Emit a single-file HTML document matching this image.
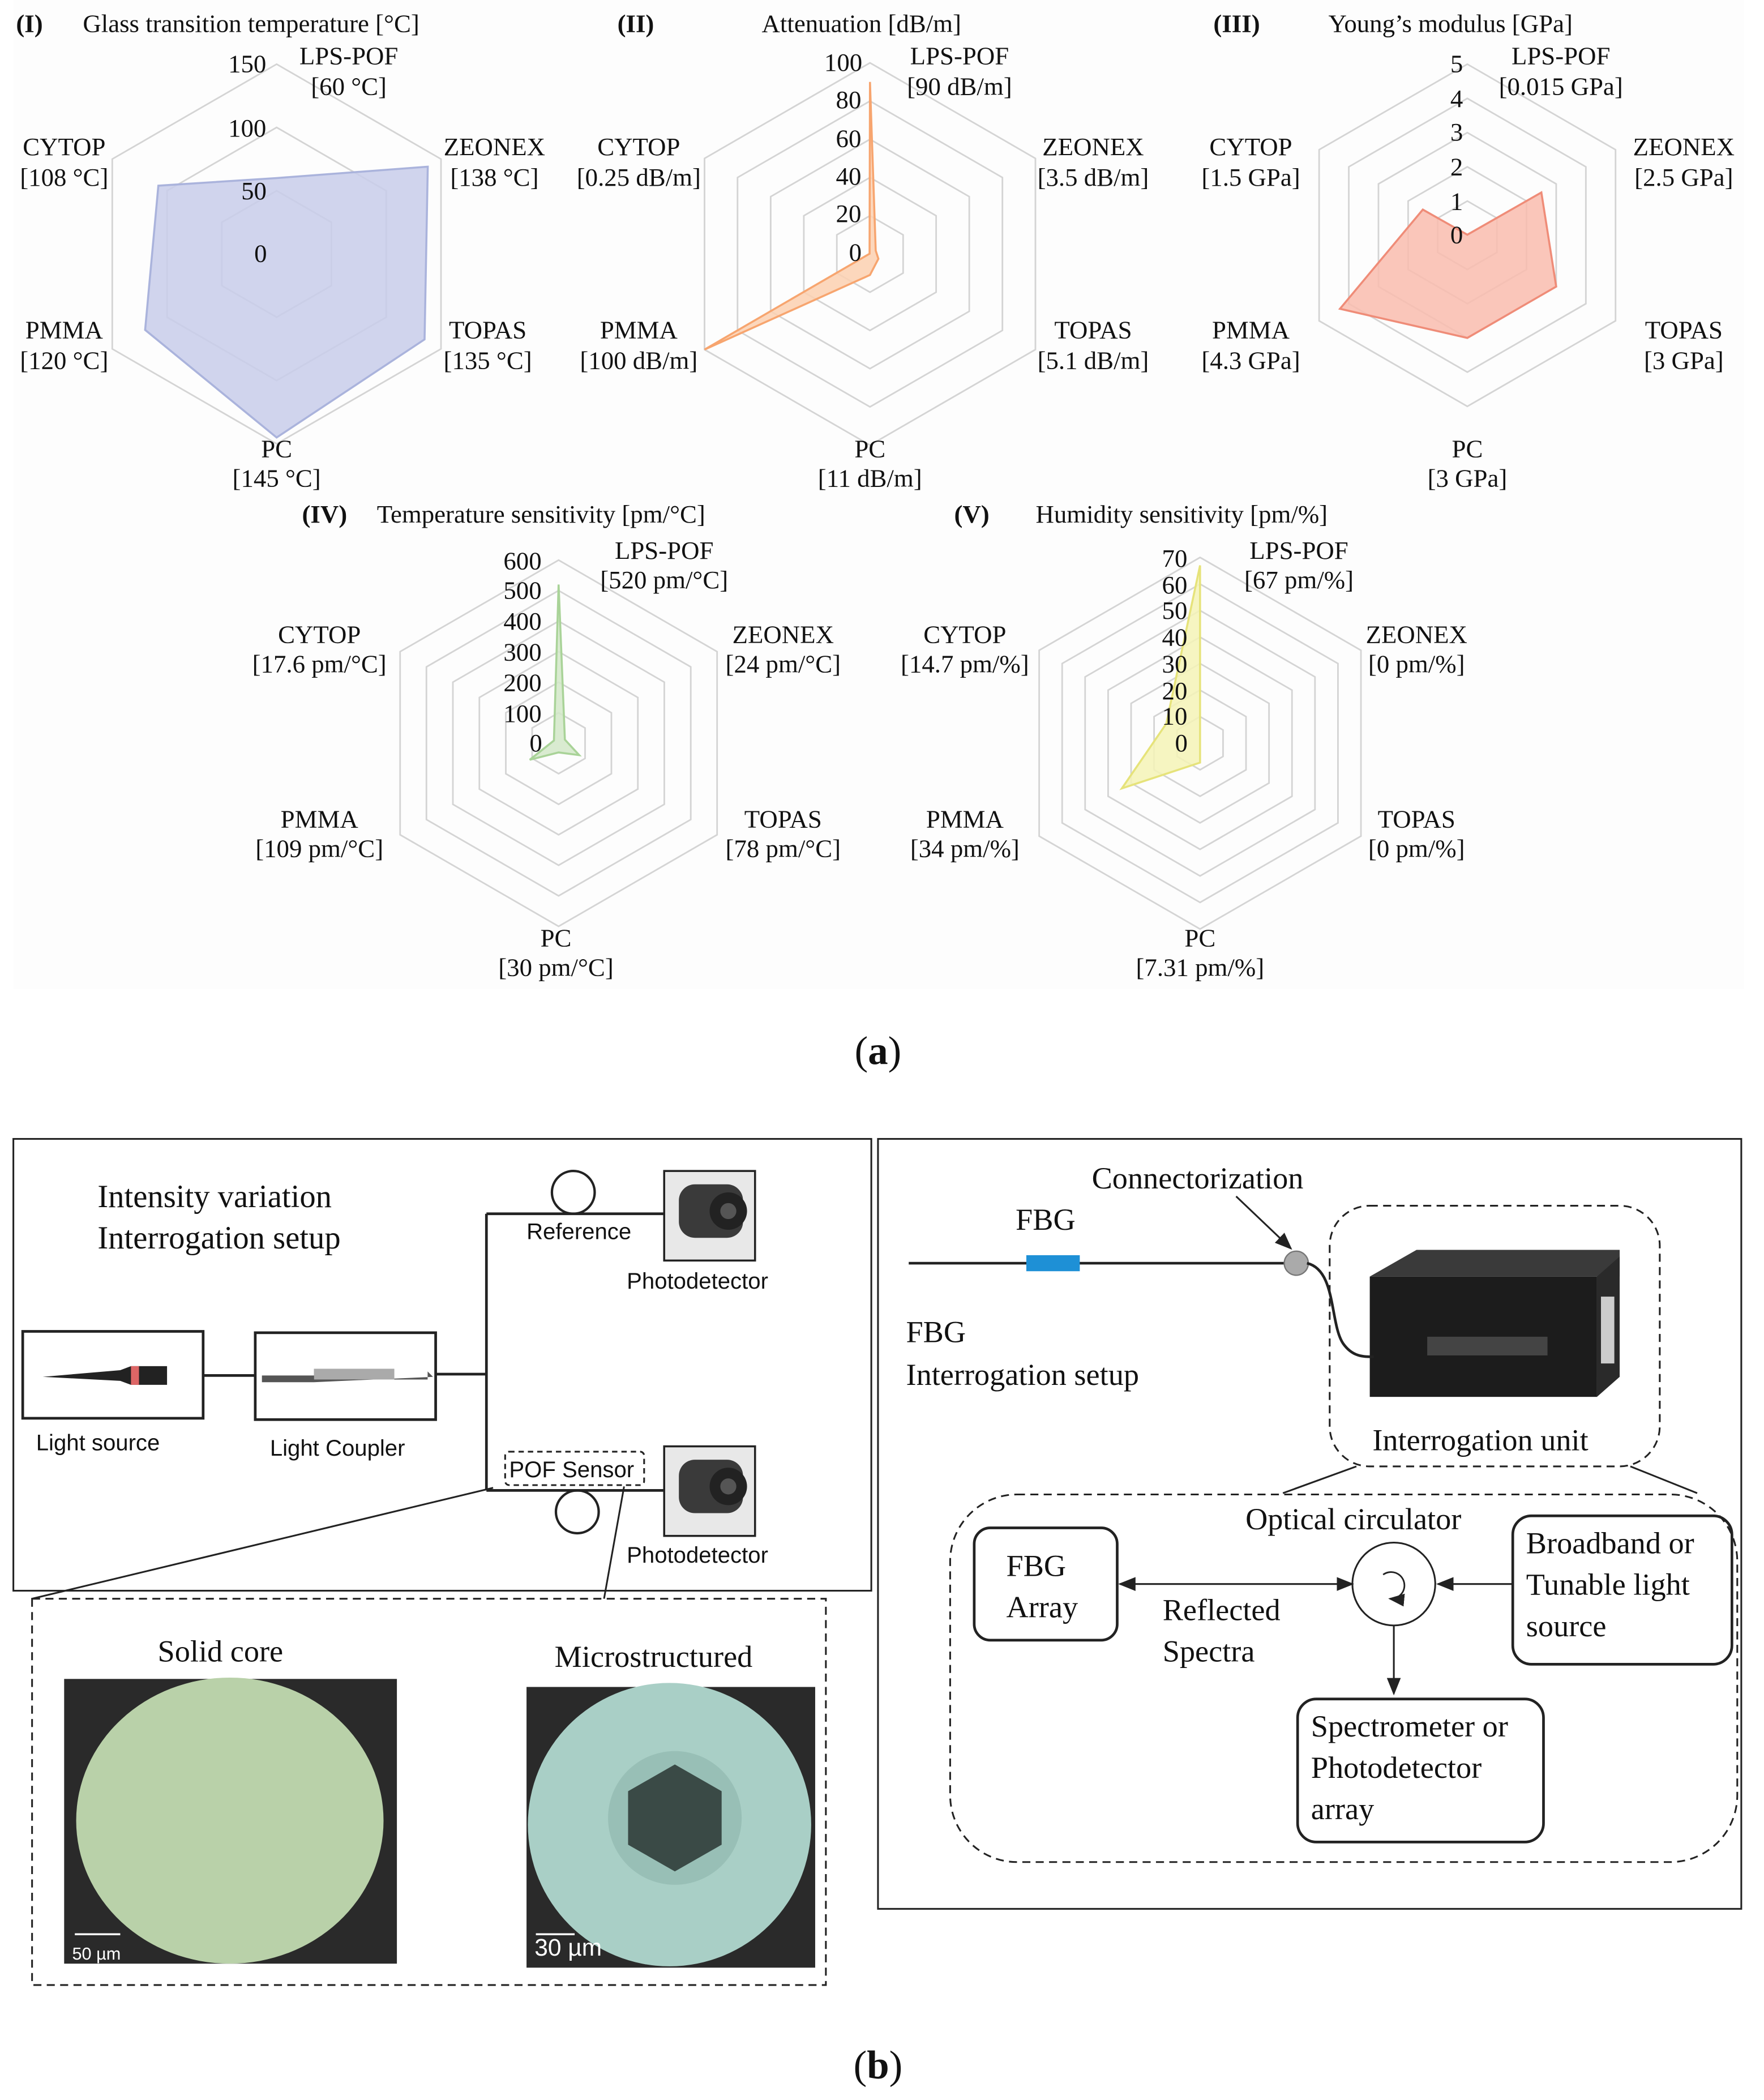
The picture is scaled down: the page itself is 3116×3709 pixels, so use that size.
<!DOCTYPE html>
<html><head><meta charset="utf-8"><style>
html,body{margin:0;padding:0;background:#fff}
svg{display:block}
.s{font-family:"Liberation Serif",serif;fill:#111}
.a{font-family:"Liberation Sans",sans-serif;fill:#111}
</style></head><body>
<svg id="g" width="3116" height="3709" viewBox="0 0 1320 1571" preserveAspectRatio="none" xmlns="http://www.w3.org/2000/svg">
<rect x="10" y="0" width="1295" height="740" fill="#fdfdfd"/>
<g id="radar"></g>
<g class="s" font-size="19">
<text x="12" y="24" font-weight="bold">(I)</text><text x="62" y="24">Glass transition temperature [°C]</text>
<text x="462" y="24" font-weight="bold">(II)</text><text x="570" y="24">Attenuation [dB/m]</text>
<text x="908" y="24" font-weight="bold">(III)</text><text x="994" y="24">Young’s modulus [GPa]</text>
<text x="226" y="391" font-weight="bold">(IV)</text><text x="282" y="391">Temperature sensitivity [pm/°C]</text>
<text x="714" y="391" font-weight="bold">(V)</text><text x="775" y="391">Humidity sensitivity [pm/%]</text>
</g>
<g class="s" font-size="19" text-anchor="middle">
<text x="261" y="48">LPS-POF</text><text x="261" y="71">[60 °C]</text>
<text x="370" y="116">ZEONEX</text><text x="370" y="139">[138 °C]</text>
<text x="365" y="253">TOPAS</text><text x="365" y="276">[135 °C]</text>
<text x="207" y="342">PC</text><text x="207" y="364">[145 °C]</text>
<text x="48" y="253">PMMA</text><text x="48" y="276">[120 °C]</text>
<text x="48" y="116">CYTOP</text><text x="48" y="139">[108 °C]</text>
<text x="185" y="54">150</text><text x="185" y="102">100</text><text x="190" y="149">50</text><text x="195" y="196">0</text>
<text x="718" y="48">LPS-POF</text><text x="718" y="71">[90 dB/m]</text>
<text x="818" y="116">ZEONEX</text><text x="818" y="139">[3.5 dB/m]</text>
<text x="818" y="253">TOPAS</text><text x="818" y="276">[5.1 dB/m]</text>
<text x="651" y="342">PC</text><text x="651" y="364">[11 dB/m]</text>
<text x="478" y="253">PMMA</text><text x="478" y="276">[100 dB/m]</text>
<text x="478" y="116">CYTOP</text><text x="478" y="139">[0.25 dB/m]</text>
<text x="631" y="53">100</text><text x="635" y="81">80</text><text x="635" y="110">60</text><text x="635" y="138">40</text><text x="635" y="166">20</text><text x="640" y="195">0</text>
<text x="1168" y="48">LPS-POF</text><text x="1168" y="71">[0.015 GPa]</text>
<text x="1260" y="116">ZEONEX</text><text x="1260" y="139">[2.5 GPa]</text>
<text x="1260" y="253">TOPAS</text><text x="1260" y="276">[3 GPa]</text>
<text x="1098" y="342">PC</text><text x="1098" y="364">[3 GPa]</text>
<text x="936" y="253">PMMA</text><text x="936" y="276">[4.3 GPa]</text>
<text x="936" y="116">CYTOP</text><text x="936" y="139">[1.5 GPa]</text>
<text x="1090" y="54">5</text><text x="1090" y="80">4</text><text x="1090" y="105">3</text><text x="1090" y="131">2</text><text x="1090" y="157">1</text><text x="1090" y="182">0</text>
<text x="497" y="418">LPS-POF</text><text x="497" y="440">[520 pm/°C]</text>
<text x="586" y="481">ZEONEX</text><text x="586" y="503">[24 pm/°C]</text>
<text x="586" y="619">TOPAS</text><text x="586" y="641">[78 pm/°C]</text>
<text x="416" y="708">PC</text><text x="416" y="730">[30 pm/°C]</text>
<text x="239" y="619">PMMA</text><text x="239" y="641">[109 pm/°C]</text>
<text x="239" y="481">CYTOP</text><text x="239" y="503">[17.6 pm/°C]</text>
<text x="391" y="426">600</text><text x="391" y="448">500</text><text x="391" y="471">400</text><text x="391" y="494">300</text><text x="391" y="517">200</text><text x="391" y="540">100</text><text x="401" y="562">0</text>
<text x="972" y="418">LPS-POF</text><text x="972" y="440">[67 pm/%]</text>
<text x="1060" y="481">ZEONEX</text><text x="1060" y="503">[0 pm/%]</text>
<text x="1060" y="619">TOPAS</text><text x="1060" y="641">[0 pm/%]</text>
<text x="898" y="708">PC</text><text x="898" y="730">[7.31 pm/%]</text>
<text x="722" y="481">CYTOP</text><text x="722" y="503">[14.7 pm/%]</text>
<text x="722" y="619">PMMA</text><text x="722" y="641">[34 pm/%]</text>
<text x="879" y="424">70</text><text x="879" y="444">60</text><text x="879" y="463">50</text><text x="879" y="483">40</text><text x="879" y="503">30</text><text x="879" y="523">20</text><text x="879" y="542">10</text><text x="884" y="562">0</text>
</g>
<text class="s" x="657" y="796" font-size="30" text-anchor="middle">(<tspan font-weight="bold">a</tspan>)</text>
<text class="s" x="657" y="1555" font-size="30" text-anchor="middle">(<tspan font-weight="bold">b</tspan>)</text>

<g fill="none" stroke="#222" stroke-width="1.3">
<rect x="10" y="852" width="642" height="338"/>
<rect x="17" y="996" width="135" height="65" stroke-width="2"/>
<rect x="191" y="997" width="135" height="65" stroke-width="2"/>
<path d="M152 1029H191M326 1028H364M364 908V1115M364 908H497M364 1115H497" stroke-width="2"/>
<circle cx="429" cy="892" r="16" stroke-width="1.8"/>
<circle cx="432" cy="1131" r="16" stroke-width="1.8"/>
<rect x="378" y="1086" width="104" height="25" rx="3" stroke-dasharray="4 3"/>
<path d="M369 1113L24 1196M467 1112L452 1196"/>
<rect x="24" y="1196" width="594" height="289" stroke-dasharray="6 4"/>
</g>
<g fill="#e8e8e8" stroke="#222" stroke-width="1.5">
<rect x="497" y="876" width="68" height="67"/><rect x="497" y="1082" width="68" height="67"/>
</g>
<g fill="#3a3a3a">
<rect x="508" y="886" width="48" height="40" rx="12"/><circle cx="545" cy="906" r="14" fill="#222"/><circle cx="545" cy="906" r="6" fill="#555"/>
<rect x="508" y="1092" width="48" height="40" rx="12"/><circle cx="545" cy="1112" r="14" fill="#222"/><circle cx="545" cy="1112" r="6" fill="#555"/>
<path d="M32 1030L90 1025L98 1022H125V1036H98L90 1033Z" fill="#222"/><rect x="98" y="1022" width="6" height="14" fill="#d66"/>
<path d="M196 1029H235V1024H295V1032H320V1026L324 1030L235 1034H196Z" fill="#555"/><rect x="235" y="1024" width="60" height="8" fill="#aaa"/>
</g>
<g class="s" font-size="24"><text x="73" y="903">Intensity variation</text><text x="73" y="934">Interrogation setup</text></g>
<g class="a" font-size="17">
<text x="394" y="927">Reference</text><text x="469" y="964">Photodetector</text><text x="469" y="1169">Photodetector</text>
<text x="27" y="1085">Light source</text><text x="202" y="1089">Light Coupler</text><text x="381" y="1105">POF Sensor</text>
</g>
<g class="s" font-size="23"><text x="118" y="1243">Solid core</text><text x="415" y="1247">Microstructured</text></g>
<rect x="48" y="1256" width="249" height="213" fill="#2a2a2a"/>
<ellipse cx="172" cy="1362" rx="115" ry="107" fill="#b9d1a9"/>
<rect x="394" y="1262" width="216" height="210" fill="#2a2a2a"/>
<circle cx="501" cy="1365" r="106" fill="#a9cfc6"/>
<circle cx="505" cy="1360" r="50" fill="#98bfb6"/>
<polygon points="505,1320 540,1340 540,1380 505,1400 470,1380 470,1340" fill="#3a4a46"/>
<g stroke="#fff" stroke-width="1.5"><path d="M56 1447H90M401 1447H430"/></g>
<g class="a" font-size="13"><text x="54" y="1466" style="fill:#fff">50 µm</text><text x="400" y="1463" font-size="18" style="fill:#fff">30 µm</text></g>

<defs><marker id="ar" markerWidth="10" markerHeight="8" refX="9" refY="4" orient="auto"><path d="M0 0L10 4L0 8Z" fill="#222"/></marker>
<marker id="ar2" markerWidth="10" markerHeight="8" refX="1" refY="4" orient="auto"><path d="M10 0L0 4L10 8Z" fill="#222"/></marker></defs>
<g fill="none" stroke="#222" stroke-width="1.3">
<rect x="657" y="852" width="646" height="576"/>
<path d="M680 945H962" stroke-width="2"/>
<path d="M925 895L966 934" marker-end="url(#ar)"/>
<rect x="995" y="902" width="247" height="195" rx="30" stroke-dasharray="6 4"/>
<path d="M960 1117L1015 1097M1220 1097L1270 1117"/>
<rect x="711" y="1118" width="589" height="275" rx="50" stroke-dasharray="6 4"/>
<rect x="729" y="1143" width="107" height="84" rx="12" stroke-width="2"/>
<rect x="1132" y="1134" width="164" height="111" rx="14" stroke-width="2"/>
<rect x="971" y="1271" width="184" height="107" rx="14" stroke-width="2"/>
<circle cx="1043" cy="1185" r="31"/>
<path d="M1035 1178A10 10 0 1 1 1040 1196" stroke-width="1.2" marker-end="url(#ar)"/>
<path d="M1012 1185H838" marker-end="url(#ar)" marker-start="url(#ar2)"/>
<path d="M1132 1185H1076" marker-end="url(#ar)"/>
<path d="M1043 1216V1267" marker-end="url(#ar)"/>
</g>
<rect x="768" y="939" width="40" height="12" fill="#1e90d6"/>
<circle cx="970" cy="945" r="9" fill="#aaa" stroke="#777"/>
<polygon points="1025,955 1060,935 1212,935 1212,955" fill="#3a3a3a"/>
<rect x="1025" y="955" width="170" height="90" fill="#1c1c1c"/>
<polygon points="1195,955 1212,940 1212,1030 1195,1045" fill="#2a2a2a"/>
<rect x="1198" y="970" width="10" height="50" fill="#ccc"/>
<rect x="1068" y="1000" width="90" height="14" fill="#444"/>
<path d="M978 945C1000 950 995 990 1005 1005C1012 1015 1020 1015 1028 1015" fill="none" stroke="#222" stroke-width="2"/>
<g class="s" font-size="23">
<text x="817" y="889">Connectorization</text><text x="760" y="920">FBG</text>
<text x="678" y="1004">FBG</text><text x="678" y="1036">Interrogation setup</text>
<text x="1027" y="1085">Interrogation unit</text><text x="932" y="1144">Optical circulator</text>
<text x="753" y="1179">FBG</text><text x="753" y="1210">Array</text>
<text x="870" y="1212">Reflected</text><text x="870" y="1243">Spectra</text>
<text x="1142" y="1162">Broadband or</text><text x="1142" y="1193">Tunable light</text><text x="1142" y="1224">source</text>
<text x="981" y="1299">Spectrometer or</text><text x="981" y="1330">Photodetector</text><text x="981" y="1361">array</text>
</g>
</svg>
<script>
(function(){
var g=document.getElementById('radar'),N='http://www.w3.org/2000/svg';
var C=[
 {cx:207,cy:190,R:142,n:3,max:150,v:[60,138,135,145,120,108],f:'#c8cdea',s:'#aab3dc'},
 {cx:651,cy:190,R:143,n:5,max:100,v:[90,3.5,5.1,11,100,0.25],f:'#fcd0b0',s:'#f7a56f'},
 {cx:1098,cy:176,R:128,n:5,max:5,v:[0.015,2.5,3,3,4.3,1.5],f:'#f9bcae',s:'#ef8c78'},
 {cx:418,cy:556,R:137,n:6,max:600,v:[520,24,78,30,109,17.6],f:'#d2e8c8',s:'#a9d398'},
 {cx:898,cy:556,R:139,n:7,max:70,v:[67,0,0,7.31,34,14.7],f:'#f5f3b6',s:'#e6e37a'}];
var ang=[-90,-30,30,90,150,210];
function pts(c,rs){return ang.map(function(a,i){var r=rs[i];a=a*Math.PI/180;return (c.cx+r*Math.cos(a)).toFixed(1)+','+(c.cy+r*Math.sin(a)).toFixed(1)}).join(' ')}
C.forEach(function(c){
 for(var k=1;k<=c.n;k++){var r=c.R*k/c.n;var p=document.createElementNS(N,'polygon');p.setAttribute('points',pts(c,[r,r,r,r,r,r]));p.setAttribute('fill','none');p.setAttribute('stroke','#d4d4d4');p.setAttribute('stroke-width','1.2');g.appendChild(p);}
 var p=document.createElementNS(N,'polygon');p.setAttribute('points',pts(c,c.v.map(function(x){return c.R*x/c.max})));p.setAttribute('fill',c.f);p.setAttribute('fill-opacity','0.85');p.setAttribute('stroke',c.s);p.setAttribute('stroke-width','1.5');g.appendChild(p);
});
})();
</script>
</body></html>
